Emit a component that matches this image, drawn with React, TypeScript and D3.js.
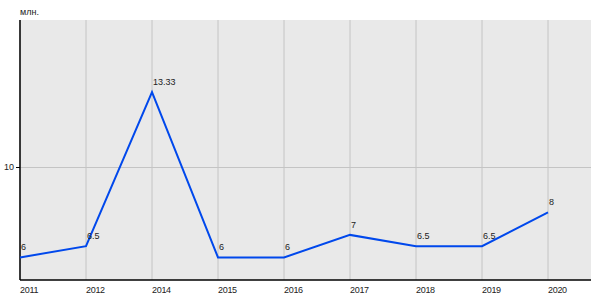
import React from "react";
import * as d3 from "d3";

const categories = ["2011", "2012", "2014", "2015", "2016", "2017", "2018", "2019", "2020"];
const values = [6, 6.5, 13.33, 6, 6, 7, 6.5, 6.5, 8];
const valueLabels = ["6", "6.5", "13.33", "6", "6", "7", "6.5", "6.5", "8"];
const yTicks = [10];
const unitLabel = "млн.";

export default function App() {
  const W = 600, H = 300;
  const left = 20, right = 591, top = 20, bottom = 280;
  const x = d3.scalePoint<string>().domain(categories).range([left, 548]);
  const y = d3.scaleLinear().domain([5, 16.53]).range([bottom, top]);
  const line = d3.line<number>()
    .x((_, i) => x(categories[i]) as number)
    .y((d) => y(d));
  const font = "'Liberation Sans', Arial, sans-serif";
  const fs = 9;
  return (
    <svg width={W} height={H} style={{ position: "absolute", left: 0, top: 0, background: "#fff" }} fontFamily={font}>
      <rect x={left} y={top} width={right - left} height={bottom - top} fill="#e9e9e9" />
      {categories.map((c) => (
        <line key={c} x1={x(c)} x2={x(c)} y1={top} y2={bottom} stroke="#c4c4c4" strokeWidth={1} />
      ))}
      {yTicks.map((t) => (
        <g key={t}>
          <line x1={left} x2={right} y1={Math.round(y(t)) + 0.5} y2={Math.round(y(t)) + 0.5} stroke="#c4c4c4" strokeWidth={1} />
          <line x1={left - 4} x2={left} y1={Math.round(y(t)) + 0.5} y2={Math.round(y(t)) + 0.5} stroke="#000" strokeWidth={1} />
          <text x={left - 6} y={y(t) + 3} textAnchor="end" fontSize={fs} fill="#222">{t}</text>
        </g>
      ))}
      <line x1={left} x2={left} y1={top} y2={bottom} stroke="#000" strokeWidth={1.5} />
      <line x1={left} x2={right} y1={bottom} y2={bottom} stroke="#000" strokeWidth={1.5} />
      <path d={line(values) || ""} fill="none" stroke="#0048ec" strokeWidth={2} />
      {values.map((v, i) => (
        <text key={i} x={(x(categories[i]) as number) + 1} y={y(v) - 7} fontSize={fs} fill="#222">{valueLabels[i]}</text>
      ))}
      {categories.map((c) => (
        <text key={c} x={x(c)} y={293} fontSize={fs} letterSpacing={-0.3} fill="#222">{c}</text>
      ))}
      <text x={left} y={15} fontSize={fs} fill="#222">{unitLabel}</text>
    </svg>
  );
}
